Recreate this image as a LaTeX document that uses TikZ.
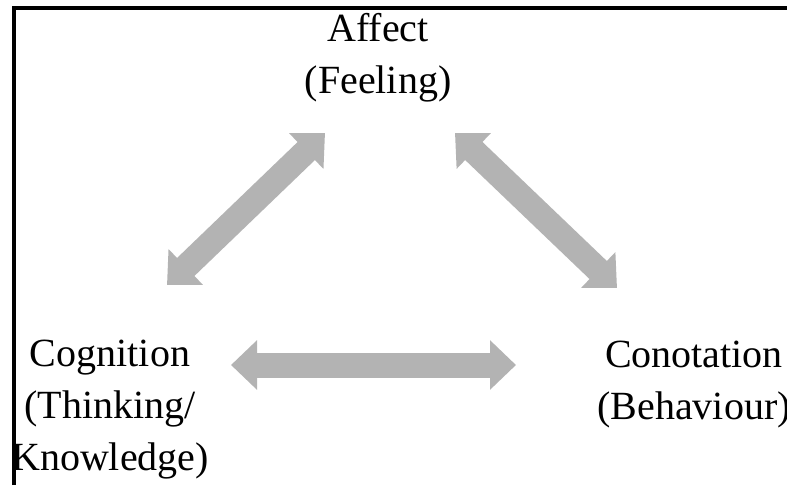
\documentclass[tikz,border=0pt]{standalone}
\usepackage{fontspec}
\setmainfont{Liberation Serif}
\usetikzlibrary{arrows.meta}
\definecolor{arrowgray}{RGB}{179,179,179}
\tikzset{
  lbl/.style={inner sep=0pt, align=center, font=\fontsize{40}{52}\selectfont},
  blockarrow/.style={draw=arrowgray, line width=25pt,
    {Triangle[length=26pt,width=48pt]}-{Triangle[length=26pt,width=48pt]}},
  frame/.style={line width=4.3pt, line join=miter}
}
\begin{document}
\begin{tikzpicture}[x=1pt,y=-1pt]
\useasboundingbox (0,0) rectangle (787,485);
\fill[white] (0,0) rectangle (787,485);
% frame
\coordinate (fbl) at (13.8,485);
\coordinate (ftr) at (790,8.3);
\draw[frame] (fbl) |- (ftr);
% labels
\node[lbl, anchor=north] (aff) at (378,13.5) {Affect\\(Feeling)};
\node[lbl, anchor=north] (cog) at (110,339.5) {Cognition\\(Thinking/\\Knowledge)};
\node[lbl, anchor=north] (con) at (694,341) {Conotation\\(Behaviour)};
% arrow ends
\coordinate (l1) at (167,285);
\coordinate (l2) at (325,133);
\coordinate (r1) at (455,133);
\coordinate (r2) at (617,288);
\coordinate (h1) at (231,365);
\coordinate (h2) at (516,365);
\draw[blockarrow] (l1) -- (l2);
\draw[blockarrow] (r1) -- (r2);
\draw[blockarrow] (h1) -- (h2);
\end{tikzpicture}
\end{document}
